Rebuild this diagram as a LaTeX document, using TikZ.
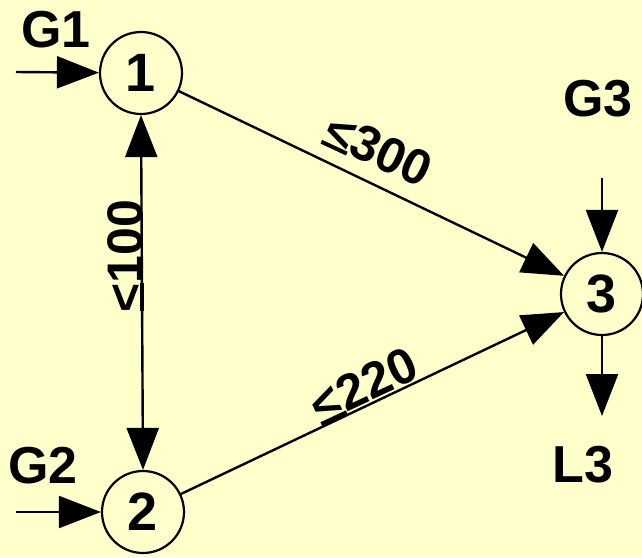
\documentclass[tikz,border=0pt]{standalone}
\usepackage{fontspec}
\setmainfont{Liberation Sans}
\usetikzlibrary{arrows.meta}
\definecolor{bg}{RGB}{255,255,204}
\newcommand\myle{\rlap{\hspace{0.03em}\rule[-0.04em]{0.56em}{0.08em}}<}
\begin{document}
\begin{tikzpicture}[x=1pt,y=-1pt,
  bus/.style={circle,draw=black,line width=2.2pt,fill=bg,minimum size=82pt,inner sep=0pt,font=\fontsize{54}{54}\selectfont\bfseries},
  lbl/.style={font=\fontsize{52}{52}\selectfont\bfseries,inner sep=0pt},
  flow/.style={line width=2.4pt,-{Triangle[length=42pt,width=32pt]}},
  lim/.style={font=\fontsize{50}{50}\selectfont\bfseries,inner sep=0pt}]
\fill[bg] (0,0) rectangle (642,557);
\useasboundingbox (0,0) rectangle (642,557);
\node[bus] (n1) at (141,73) {1};
\node[bus] (n2) at (143,512) {2};
\node[bus] (n3) at (602,294) {3};
\node[lbl] (g1) at (56,30) {G1};
\node[lbl] (g2) at (43,466) {G2};
\node[lbl] (g3) at (598,99) {G3};
\node[lbl] (l3) at (583,465) {L3};
\coordinate (g1s) at (16,72);
\coordinate (g2s) at (16,512);
\coordinate (g3s) at (602,178);
\coordinate (l3e) at (602,416);
\draw[flow] (g1s) -- (n1);
\draw[flow] (g2s) -- (n2);
\draw[flow] (g3s) -- (n3);
\draw[flow] (n3) -- (l3e);
\draw[flow] (n1) -- (n3);
\draw[flow] (n2) -- (n3);
\draw[line width=2.4pt,{Triangle[length=42pt,width=32pt]}-{Triangle[length=42pt,width=32pt]}] (n1.south) -- (n2.north);
\node[lim,rotate=-25] (c13) at (378,150) {\myle300};
\node[lim,rotate=25] (c23) at (364,386) {\myle220};
\node[lim,rotate=90] (c12) at (126,256) {\myle100};
\end{tikzpicture}
\end{document}
